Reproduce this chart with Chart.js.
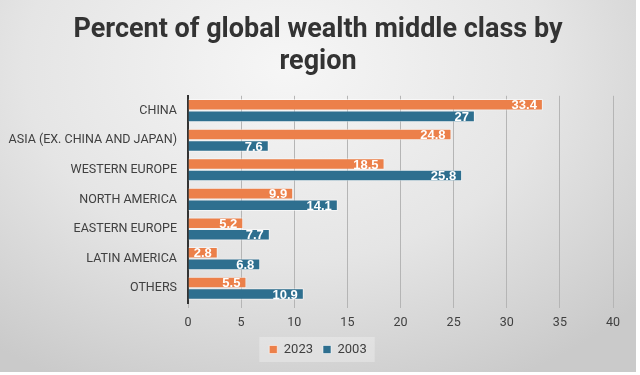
<!DOCTYPE html>
<html>
<head>
<meta charset="utf-8">
<script src="https://cdn.jsdelivr.net/npm/chart.js@4"></script>
<style>
  html, body { margin: 0; padding: 0; background: #fff; }
  #wrap {
    position: absolute; left: 0; top: 0; width: 636px; height: 372px;
    background: radial-gradient(ellipse 75% 95% at 45% 18%, #f6f6f6 0%, #e5e5e5 55%, #cacaca 100%);
  }
  canvas { display: block; }
</style>
</head>
<body>
<div id="wrap"><canvas id="chart" width="636" height="372"></canvas></div>
<script>
const REGIONS = [
  'CHINA', 'ASIA (EX. CHINA AND JAPAN)', 'WESTERN EUROPE', 'NORTH AMERICA',
  'EASTERN EUROPE', 'LATIN AMERICA', 'OTHERS'
];
const VALUES_2023 = [33.4, 24.8, 18.5, 9.9, 5.2, 2.8, 5.5];
const VALUES_2003 = [27, 7.6, 25.8, 14.1, 7.7, 6.8, 10.9];
const X_TICKS = [0, 5, 10, 15, 20, 25, 30, 35, 40];

const ORANGE = '#ec804a';
const BLUE = '#2e6f8f';
const TEXT = '#404040';
const FONT = 'Roboto';

// white value labels drawn inside the end of each bar
const barLabels = {
  id: 'barLabels',
  afterDatasetsDraw(chart) {
    const { ctx } = chart;
    ctx.save();
    ctx.font = 'bold 13px "Liberation Sans", Arial, sans-serif';
    ctx.fillStyle = '#ffffff';
    ctx.textAlign = 'right';
    ctx.textBaseline = 'middle';
    chart.data.datasets.forEach((ds, i) => {
      chart.getDatasetMeta(i).data.forEach((bar, j) => {
        ctx.fillText(String(ds.data[j]), bar.x - 6, bar.y + 1);
      });
    });
    ctx.restore();
  }
};

// lighter panel behind the legend items
const legendPanel = {
  id: 'legendPanel',
  beforeDraw(chart) {
    const lg = chart.legend;
    if (!lg || !lg.legendHitBoxes.length) return;
    const boxes = lg.legendHitBoxes;
    const x0 = Math.min(...boxes.map(b => b.left)) - 10;
    const x1 = Math.max(...boxes.map(b => b.left + b.width)) + 8;
    const y0 = Math.min(...boxes.map(b => b.top)) - 6;
    const y1 = Math.max(...boxes.map(b => b.top + b.height)) + 6;
    const { ctx } = chart;
    ctx.save();
    ctx.fillStyle = 'rgba(255,255,255,0.28)';
    ctx.fillRect(x0, y0, x1 - x0, y1 - y0);
    ctx.restore();
  }
};

new Chart(document.getElementById('chart'), {
  type: 'bar',
  data: {
    labels: REGIONS,
    datasets: [
      { label: '2023', data: VALUES_2023, backgroundColor: ORANGE, borderColor: 'rgba(255,255,255,0.55)', borderWidth: 1 },
      { label: '2003', data: VALUES_2003, backgroundColor: BLUE, borderColor: 'rgba(255,255,255,0.55)', borderWidth: 1 }
    ]
  },
  options: {
    responsive: false,
    animation: false,
    indexAxis: 'y',
    categoryPercentage: 0.78,
    barPercentage: 1.0,
    layout: { padding: { left: 0, right: 0, top: 8, bottom: 6 } },
    plugins: {
      title: {
        display: true,
        text: ['Percent of global wealth middle class by', 'region'],
        color: '#333333',
        font: { family: FONT, size: 27, weight: 'bold', lineHeight: 1.2 },
        padding: { top: 6, bottom: 17 }
      },
      legend: {
        position: 'bottom',
        labels: { color: TEXT, font: { family: FONT, size: 13 }, boxWidth: 8, boxHeight: 8, padding: 10 }
      },
      tooltip: { enabled: false }
    },
    scales: {
      x: {
        min: 0,
        max: 40,
        afterBuildTicks(scale) { scale.ticks = X_TICKS.map(v => ({ value: v })); },
        afterFit(scale) { scale.height = 30; },
        ticks: { color: TEXT, font: { family: FONT, size: 12.5 }, padding: 7 },
        grid: { color: '#b5b5b5', tickLength: 5, drawTicks: true },
        border: { display: false }
      },
      y: {
        afterFit(scale) { scale.width = 188; },
        ticks: { color: TEXT, font: { family: FONT, size: 12.5 }, padding: 11, autoSkip: false },
        grid: { display: false, drawTicks: false },
        border: { display: true, color: '#333333', width: 2 }
      },
      // empty right-hand axis, only reserves the margin right of the plot
      spacer: {
        axis: 'y',
        position: 'right',
        display: true,
        afterFit(scale) { scale.width = 23; },
        ticks: { display: false },
        grid: { display: false, drawTicks: false },
        border: { display: false }
      }
    }
  },
  plugins: [legendPanel, barLabels]
});
</script>
</body>
</html>
